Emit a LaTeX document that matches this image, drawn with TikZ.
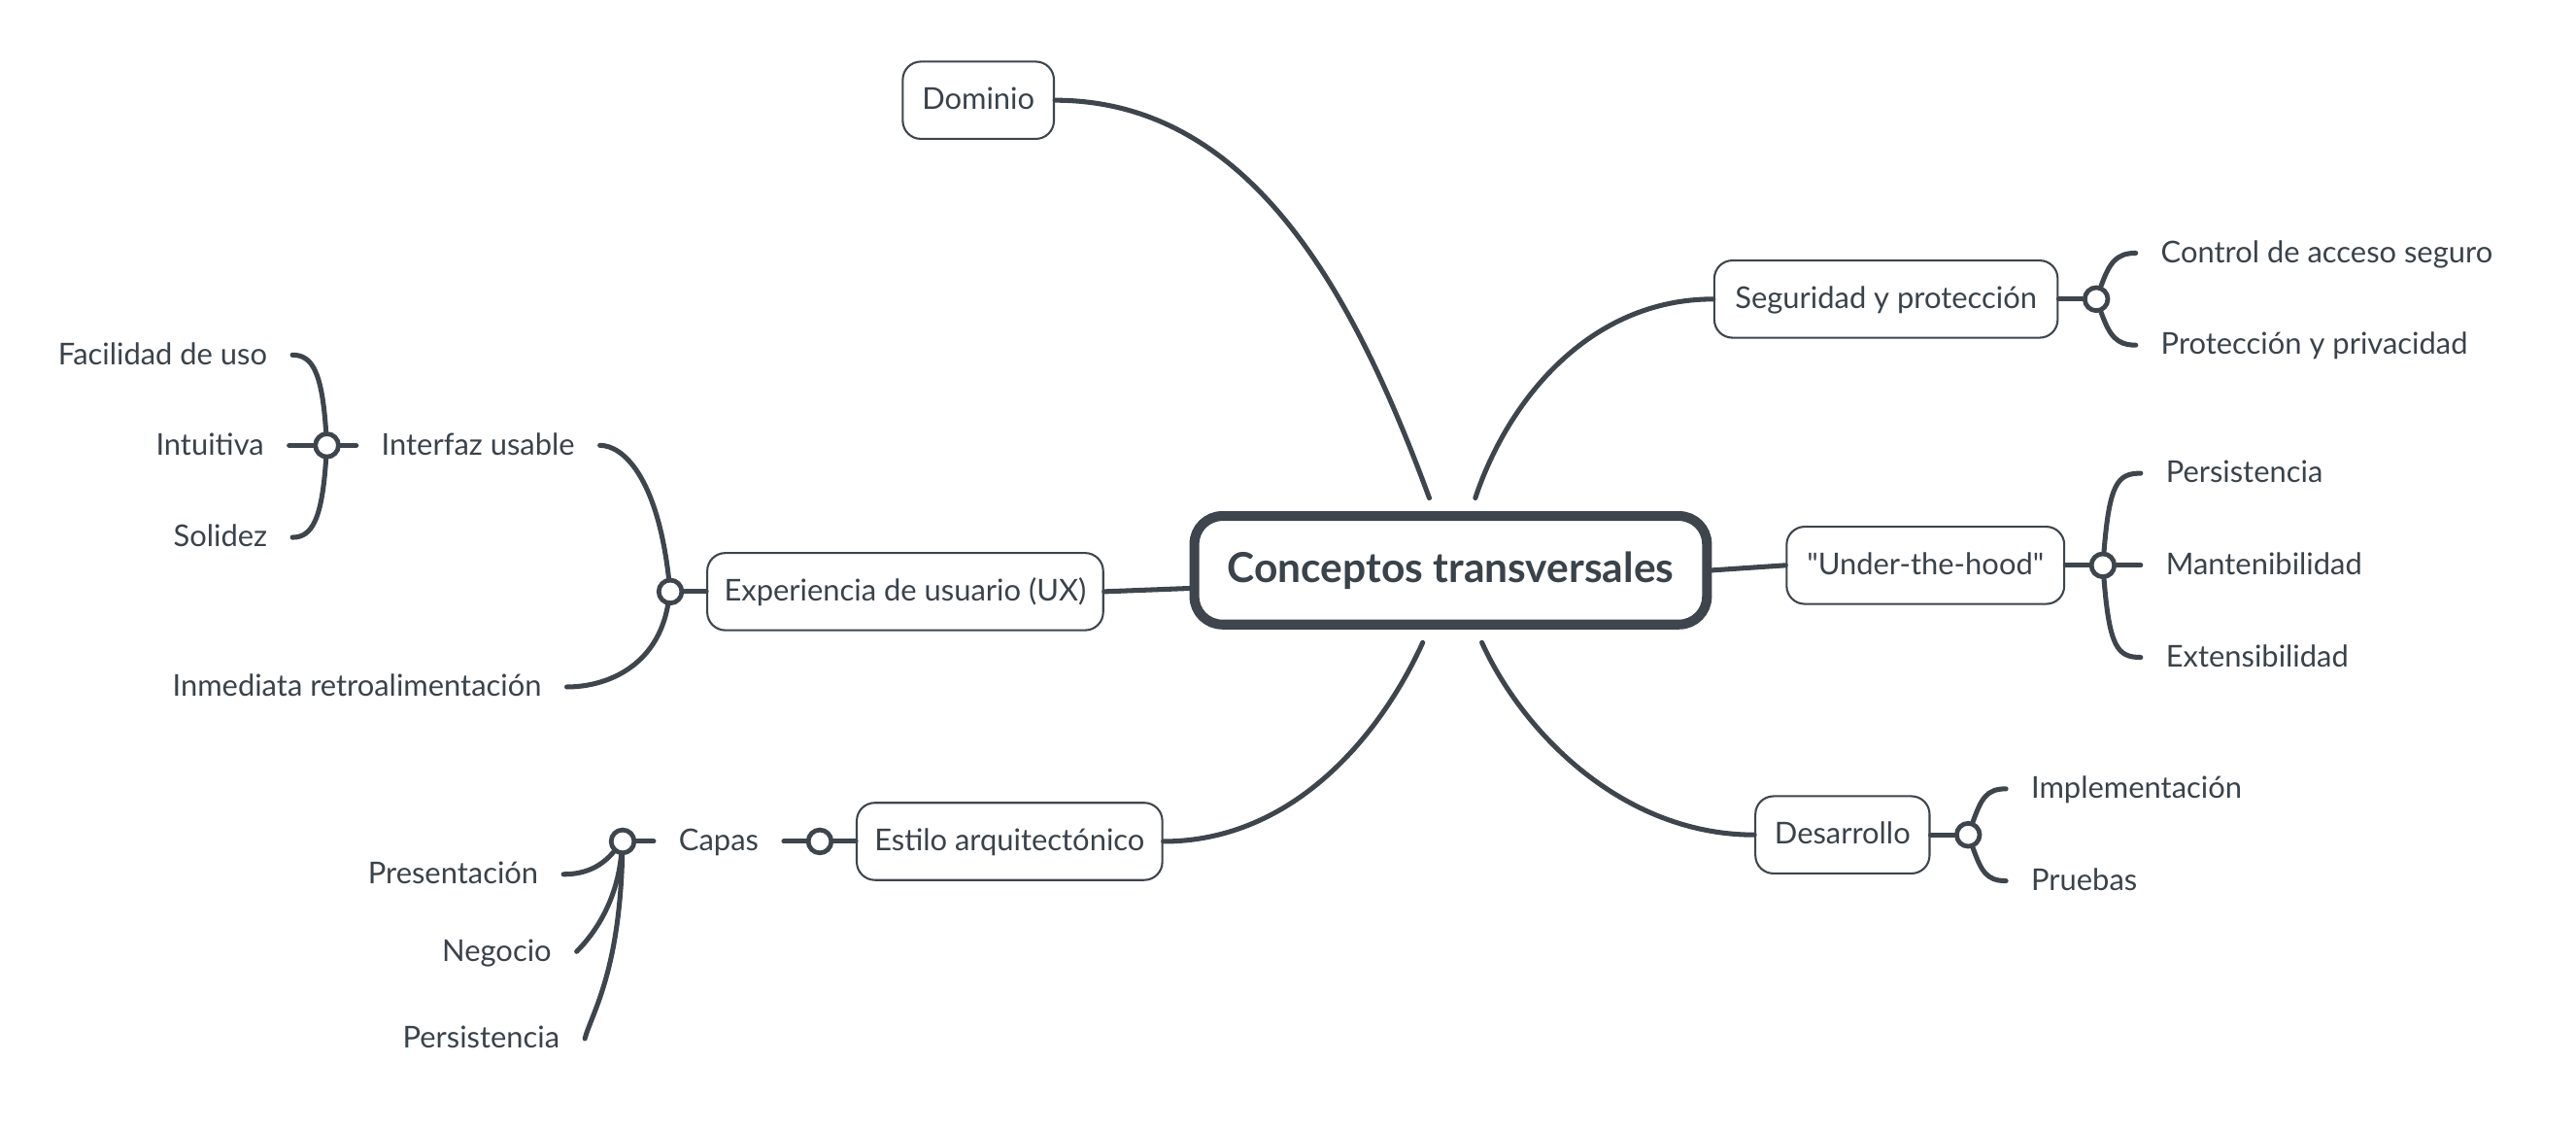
\documentclass[tikz,border=0pt]{standalone}
\usepackage{fontspec}
\setmainfont{Lato}[Ligatures=TeXOff]
\usepackage{tikz}

\definecolor{linec}{HTML}{3E454C}
\definecolor{textc}{HTML}{3A424A}

\begin{document}
\begin{tikzpicture}[x=0.2mm,y=-0.2mm,
   topic/.style={draw=linec,line width=0.7pt,rounded corners=2.2mm,fill=white,text=textc,minimum height=9.4mm,inner xsep=1mm,font=\fontsize{10.4}{12}\selectfont,text height=1.8ex,text depth=0.5ex},
   leaf/.style={text=textc,inner xsep=3mm,inner ysep=1mm,font=\fontsize{10.4}{12}\selectfont,text height=1.8ex,text depth=0.5ex},
   knob/.style={circle,draw=linec,line width=1.6pt,fill=white,minimum size=2.8mm,inner sep=0pt},
   link/.style={draw=linec,line width=1.7pt,line cap=round}]
   \useasboundingbox (0,0) rectangle (1568,688);

   \node[draw=linec,line width=3.4pt,rounded corners=3.4mm,minimum width=62.4mm,minimum height=13.2mm,text=textc,font=\bfseries\fontsize{14.3}{16}\selectfont] (cen) at (883,347) {Conceptos transversales};

   \node[topic,minimum width=18.4mm] (dom) at (595.5,61) {Dominio};
   \node[topic,minimum width=41.8mm] (seg) at (1148,182) {Seguridad y protección};
   \node[topic,minimum width=33.8mm] (uth) at (1172,344) {"Under-the-hood"};
   \node[topic,minimum width=21.2mm] (des) at (1121.5,508) {Desarrollo};
   \node[topic,minimum width=48.2mm] (ux) at (551,360) {Experiencia de usuario (UX)};
   \node[topic,minimum width=37.2mm] (est) at (614.5,512) {Estilo arquitectónico};

   \node[leaf,anchor=west] (sc1) at (1300,154) {Control de acceso seguro};
   \node[leaf,anchor=west] (sc2) at (1300,210) {Protección y privacidad};
   \node[leaf,anchor=west] (uh1) at (1303,288) {Persistencia};
   \node[leaf,anchor=west] (uh2) at (1303,344) {Mantenibilidad};
   \node[leaf,anchor=west] (uh3) at (1303,400) {Extensibilidad};
   \node[leaf,anchor=west] (de1) at (1221,480) {Implementación};
   \node[leaf,anchor=west] (de2) at (1221,536) {Pruebas};
   \node[leaf] (ux1) at (291,271) {Interfaz usable};
   \node[leaf,anchor=east] (ux2) at (345,418) {Inmediata retroalimentación};
   \node[leaf,anchor=east] (iu1) at (178,216) {Facilidad de uso};
   \node[leaf,anchor=east] (iu2) at (176,271) {Intuitiva};
   \node[leaf,anchor=east] (iu3) at (178,327) {Solidez};
   \node[leaf] (ca) at (437.5,512) {Capas};
   \node[leaf,anchor=east] (ca1) at (343,532) {Presentación};
   \node[leaf,anchor=east] (ca2) at (351,579) {Negocio};
   \node[leaf,anchor=east] (ca3) at (356,632) {Persistencia};

   \node[knob] (ks) at (1276,182) {};
   \node[knob] (ku) at (1280,344) {};
   \node[knob] (kd) at (1198,508) {};
   \node[knob] (kx) at (408,360) {};
   \node[knob] (ki) at (199,271) {};
   \node[knob] (ke) at (499,512) {};
   \node[knob] (kc) at (379,512) {};

   \draw[link] (dom.east) .. controls +(120,0) and +(-45,-122) .. ([xshift=-2.6mm,yshift=1.6mm]cen.north);
   \draw[link] ([xshift=3mm,yshift=1.6mm]cen.north) .. controls +(20,-60) and +(-75,0) .. (seg.west);
   \draw[link] (cen.east) -- (uth.west);
   \draw[link] ([xshift=3.8mm,yshift=-1.6mm]cen.south) .. controls +(25,55) and +(-80,0) .. (des.west);
   \draw[link] ([xshift=-3.4mm,yshift=-1.6mm]cen.south) .. controls +(-25,55) and +(80,0) .. (est.east);
   \draw[link] (ux.east) -- ([yshift=-2.2mm]cen.west);

   \draw[link] (seg.east) -- (ks);
   \draw[link] (ks) .. controls +(8,-22) and +(-12,0) .. (sc1.west);
   \draw[link] (ks) .. controls +(8,22) and +(-12,0) .. (sc2.west);

   \draw[link] (uth.east) -- (ku);
   \draw[link] (ku) .. controls +(4,-50) and +(-14,0) .. (uh1.west);
   \draw[link] (ku) -- (uh2.west);
   \draw[link] (ku) .. controls +(4,50) and +(-14,0) .. (uh3.west);

   \draw[link] (des.east) -- (kd);
   \draw[link] (kd) .. controls +(8,-22) and +(-12,0) .. (de1.west);
   \draw[link] (kd) .. controls +(8,22) and +(-12,0) .. (de2.west);

   \draw[link] (ux.west) -- (kx);
   \draw[link] (kx) .. controls +(-8,-70) and +(14,0) .. (ux1.east);
   \draw[link] (kx) .. controls +(-8,45) and +(25,0) .. (ux2.east);

   \draw[link] (ki) -- (ux1.west);
   \draw[link] (ki) .. controls +(-3,-45) and +(12,0) .. (iu1.east);
   \draw[link] (ki) -- (iu2.east);
   \draw[link] (ki) .. controls +(-3,45) and +(12,0) .. (iu3.east);

   \draw[link] (est.west) -- (ke);
   \draw[link] (ke) -- (ca.east);
   \draw[link] (kc) -- (ca.west);
   \draw[link] (kc) .. controls +(-12,14) and +(15,0) .. (ca1.east);
   \draw[link] (kc) .. controls +(-4,40) and +(8,-8) .. (ca2.east);
   \draw[link] (kc) .. controls +(-2,80) and +(4,-15) .. (ca3.east);
\end{tikzpicture}
\end{document}
